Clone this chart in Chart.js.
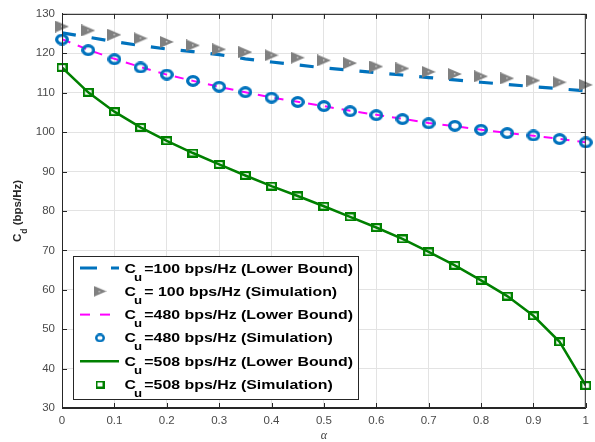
<!DOCTYPE html>
<html>
<head>
<meta charset="utf-8">
<script src="https://cdn.jsdelivr.net/npm/chart.js@4.4.1/dist/chart.umd.min.js"></script>
<style>html,body{margin:0;padding:0;background:#fff;}</style>
</head>
<body>
<canvas id="c" width="595" height="442"></canvas>
<script>
// x axis values (alpha)
var alpha = [0, 0.05, 0.1, 0.15, 0.2, 0.25, 0.3, 0.35, 0.4, 0.45, 0.5, 0.55, 0.6, 0.65, 0.7, 0.75, 0.8, 0.85, 0.9, 0.95, 1];
// Cu = 100 bps/Hz
var lb100  = [125.2, 124.1, 122.95, 121.95, 121.1, 120.45, 119.65, 118.6, 117.8, 117.05, 116.3, 115.7, 115.1, 114.5, 113.85, 113.25, 112.65, 112.1, 111.55, 111.0, 110.45];
var sim100 = [126.8, 125.8, 124.7, 123.8, 122.9, 122.0, 121.0, 120.3, 119.5, 118.9, 118.2, 117.5, 116.65, 116.15, 115.3, 114.75, 114.15, 113.65, 113.1, 112.65, 112.0];
// Cu = 480 bps/Hz
var lb480  = [123.6, 120.9, 118.6, 116.5, 114.6, 113.0, 111.5, 110.1, 108.8, 107.7, 106.6, 105.4, 104.4, 103.4, 102.3, 101.5, 100.6, 99.8, 99.1, 98.3, 97.4];
var sim480 = [123.5, 120.8, 118.5, 116.4, 114.6, 113.0, 111.5, 110.15, 108.75, 107.65, 106.6, 105.3, 104.3, 103.3, 102.25, 101.6, 100.6, 99.75, 99.15, 98.25, 97.4];
// Cu = 508 bps/Hz
var lb508  = [116.4, 110.1, 105.2, 101.2, 97.8, 94.7, 91.8, 89.0, 86.3, 83.8, 81.2, 78.5, 75.8, 72.9, 69.6, 66.2, 62.4, 58.4, 53.4, 46.8, 35.7];
var sim508 = [116.4, 110.1, 105.2, 101.2, 97.8, 94.7, 91.8, 89.0, 86.3, 83.8, 81.2, 78.5, 75.8, 72.9, 69.6, 66.2, 62.4, 58.4, 53.4, 46.8, 35.7];
// ticks
var xTicks = [0, 0.1, 0.2, 0.3, 0.4, 0.5, 0.6, 0.7, 0.8, 0.9, 1];
var yTicks = [30, 40, 50, 60, 70, 80, 90, 100, 110, 120, 130];
// legend texts (C + subscript u + rest)
var legendRest = [" =100 bps/Hz (Lower Bound)", " = 100 bps/Hz (Simulation)", " =480 bps/Hz (Lower Bound)",
                  " =480 bps/Hz (Simulation)", " =508 bps/Hz (Lower Bound)", " =508 bps/Hz (Simulation)"];

var BLUE = '#0072BD', GRAY = '#808080', MAGENTA = '#FF00FF', GREEN = '#008000';

function pts(arr) {
    return alpha.map(function (a, i) { return { x: a, y: arr[i] }; });
}

// marker images (the reference markers are a little wider than tall)
function marker(w, h, draw) {
    var c = document.createElement('canvas');
    c.width = w; c.height = h;
    draw(c.getContext('2d'), w, h);
    return c;
}
function triMark(w, h) {
    return marker(w, h, function (g) {
        g.fillStyle = GRAY;
        g.beginPath(); g.moveTo(0, 0); g.lineTo(w, h / 2); g.lineTo(0, h); g.closePath(); g.fill();
        g.fillStyle = '#c8c8c8';
        g.fillRect(Math.round(w * 0.4), Math.round(h / 2) - 1, 1.5, 1.5);
    });
}
function ringMark(w, h, lw) {
    return marker(w, h, function (g) {
        g.strokeStyle = BLUE; g.lineWidth = lw;
        g.beginPath(); g.ellipse(w / 2, h / 2, w / 2 - lw / 2, h / 2 - lw / 2, 0, 0, Math.PI * 2); g.stroke();
    });
}
function sqMark(w, h, lw) {
    return marker(w, h, function (g) {
        g.strokeStyle = GREEN; g.lineWidth = lw;
        g.strokeRect(lw / 2, lw / 2, w - lw, h - lw);
    });
}
var triImg = triMark(14, 12), ringImg = ringMark(14, 12, 3.3), sqImg = sqMark(11, 9, 2.2);

// frame, inward ticks, y title and legend
var decor = {
    id: 'decor',
    afterDatasetsDraw: function (chart) {
        var ctx = chart.ctx, a = chart.chartArea;
        var xs = chart.scales.x, ys = chart.scales.y;
        ctx.save();
        ctx.strokeStyle = '#262626';
        ctx.lineWidth = 1;
        ctx.strokeRect(a.left + 0.5, a.top + 0.5, a.right - a.left - 1, a.bottom - a.top - 1);
        ctx.beginPath();
        xTicks.forEach(function (v) {
            var px = Math.round(xs.getPixelForValue(v)) + 0.5;
            ctx.moveTo(px, a.bottom); ctx.lineTo(px, a.bottom - 5);
            ctx.moveTo(px, a.top); ctx.lineTo(px, a.top + 5);
        });
        yTicks.forEach(function (v) {
            var py = Math.round(ys.getPixelForValue(v)) + 0.5;
            ctx.moveTo(a.left, py); ctx.lineTo(a.left + 5, py);
            ctx.moveTo(a.right, py); ctx.lineTo(a.right - 5, py);
        });
        ctx.stroke();
        ctx.restore();
    },
    afterDraw: function (chart) {
        var ctx = chart.ctx, a = chart.chartArea;
        ctx.save();
        // y axis title: C_d (bps/Hz)
        ctx.translate(17, (a.top + a.bottom) / 2);
        ctx.rotate(-Math.PI / 2);
        ctx.fillStyle = '#262626';
        ctx.textBaseline = 'alphabetic';
        ctx.font = 'bold 11.5px "Liberation Sans"';
        var wC = ctx.measureText('C').width;
        var wR = ctx.measureText(' (bps/Hz)').width;
        ctx.font = 'bold 8.5px "Liberation Sans"';
        var wD = ctx.measureText('d').width;
        var x0 = -(wC + wD + wR) / 2;
        ctx.font = 'bold 11.5px "Liberation Sans"';
        ctx.fillText('C', x0, 4);
        ctx.fillText(' (bps/Hz)', x0 + wC + wD, 4);
        ctx.font = 'bold 8.5px "Liberation Sans"';
        ctx.fillText('d', x0 + wC, 10);
        ctx.restore();

        // legend
        ctx.save();
        var bx = 73, by = 256, bw = 285, bh = 143;
        ctx.fillStyle = '#fff';
        ctx.fillRect(bx, by, bw, bh);
        ctx.strokeStyle = '#262626';
        ctx.lineWidth = 1;
        ctx.strokeRect(bx + 0.5, by + 0.5, bw, bh);
        var rowY = [268, 291.3, 314.6, 337.9, 361.2, 384.5];
        // samples
        ctx.lineCap = 'butt';
        ctx.strokeStyle = BLUE; ctx.lineWidth = 3; ctx.setLineDash([17, 14]);
        ctx.beginPath(); ctx.moveTo(80, rowY[0]); ctx.lineTo(119, rowY[0]); ctx.stroke();
        ctx.strokeStyle = MAGENTA; ctx.lineWidth = 2; ctx.setLineDash([10, 10]);
        ctx.beginPath(); ctx.moveTo(80, rowY[2]); ctx.lineTo(119, rowY[2]); ctx.stroke();
        ctx.strokeStyle = GREEN; ctx.lineWidth = 2.5; ctx.setLineDash([]);
        ctx.beginPath(); ctx.moveTo(80, rowY[4]); ctx.lineTo(119, rowY[4]); ctx.stroke();
        var lt = triMark(13, 11), lr = ringMark(10, 9, 2.4), ls = sqMark(9, 8, 2);
        ctx.drawImage(lt, 100 - 6.5, rowY[1] - 5.5);
        ctx.drawImage(lr, 100 - 5, rowY[3] - 4.5);
        ctx.drawImage(ls, 100 - 4.5, rowY[5] - 4);
        // texts
        ctx.fillStyle = '#000';
        ctx.font = 'bold 12px "Liberation Sans"';
        var cW = ctx.measureText('C').width;
        var rW = ctx.measureText(legendRest[0]).width;
        var gap = 3;
        var sx = (353 - 124.5) / (cW + gap + rW);
        legendRest.forEach(function (t, i) {
            ctx.save();
            ctx.translate(124.5, rowY[i] + 4.5);
            ctx.scale(sx, 1);
            ctx.font = 'bold 12px "Liberation Sans"';
            ctx.fillText('C', 0, 0);
            ctx.fillText(t, cW + gap, 0);
            ctx.font = 'bold 10px "Liberation Sans"';
            ctx.fillText('u', cW - 1.5, 8);
            ctx.restore();
        });
        ctx.restore();
    }
};

var ctx = document.getElementById('c');
var chart = new Chart(ctx, {
    type: 'line',
    data: {
        datasets: [
            { data: pts(lb100), borderColor: BLUE, borderWidth: 3.2, borderDash: [14, 16], pointRadius: 0, fill: false, tension: 0, order: 6 },
            { data: pts(sim100), showLine: false, pointStyle: triImg, pointRadius: 6, clip: false, order: 5 },
            { data: pts(lb480), borderColor: MAGENTA, borderWidth: 2, borderDash: [9, 8], pointRadius: 0, fill: false, tension: 0, order: 4 },
            { data: pts(sim480), showLine: false, pointStyle: ringImg, pointRadius: 6, clip: false, order: 3 },
            { data: pts(lb508), borderColor: GREEN, borderWidth: 2.5, pointRadius: 0, fill: false, tension: 0, order: 2 },
            { data: pts(sim508), showLine: false, pointStyle: sqImg, pointRadius: 5, clip: false, order: 1 }
        ]
    },
    options: {
        responsive: false,
        animation: false,
        layout: { padding: { top: 7, right: 7, left: 0, bottom: 0 } },
        plugins: { legend: { display: false }, tooltip: { enabled: false } },
        scales: {
            x: {
                type: 'linear', min: 0, max: 1,
                afterBuildTicks: function (s) { s.ticks = xTicks.map(function (v) { return { value: v }; }); },
                afterFit: function (s) { s.height = 34; },
                ticks: {
                    autoSkip: false, maxRotation: 0, padding: 6, color: '#4a4a4a',
                    font: { family: 'Liberation Sans', size: 11.5 },
                    callback: function (v) { return String(v); }
                },
                grid: { color: '#e3e3e3', drawTicks: false },
                border: { display: true, color: '#262626' },
                title: { display: true, text: 'α', color: '#404040', padding: 0,
                         font: { family: 'Liberation Serif', style: 'italic', size: 12, lineHeight: 1 } }
            },
            y: {
                min: 30, max: 130,
                afterBuildTicks: function (s) { s.ticks = yTicks.map(function (v) { return { value: v }; }); },
                afterFit: function (s) { s.width = 62; },
                ticks: {
                    autoSkip: false, padding: 7, color: '#4a4a4a',
                    font: { family: 'Liberation Sans', size: 11.5 }
                },
                grid: { color: '#e3e3e3', drawTicks: false },
                border: { display: true, color: '#262626' }
            }
        }
    },
    plugins: [decor]
});
</script>
</body>
</html>
